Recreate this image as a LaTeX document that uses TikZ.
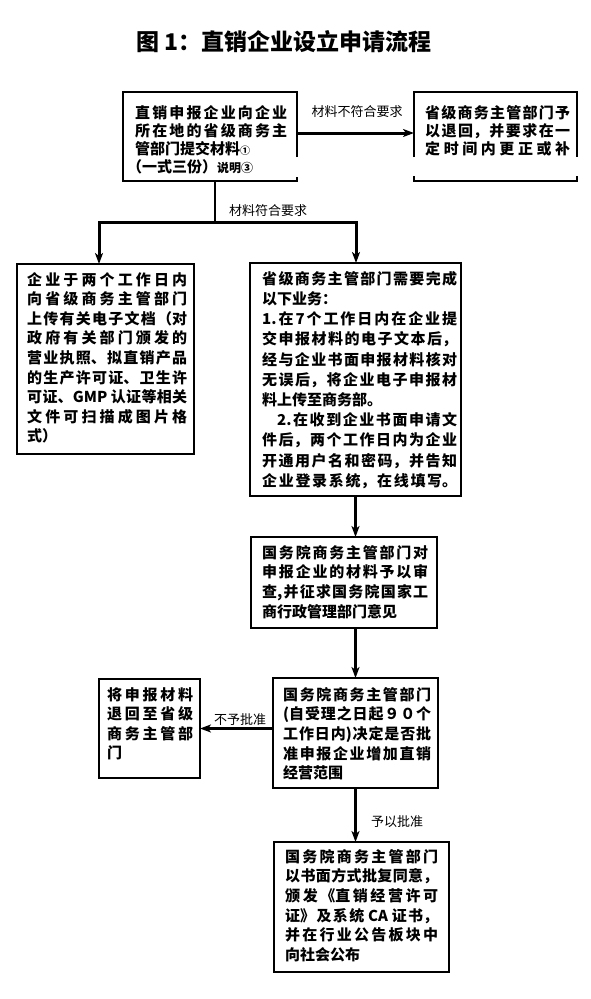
\documentclass[tikz,border=0pt]{standalone}
\usepackage{fontspec}
\newfontfamily\cjk{Noto Sans CJK SC}
\usetikzlibrary{arrows.meta,calc}
\XeTeXlinebreaklocale "zh"
\XeTeXlinebreakskip=0pt plus 6pt
\tikzset{
  box/.style={draw, line width=1.2pt, inner sep=0pt, outer sep=0pt},
  hollow/.style={inner sep=0pt, outer sep=0pt},
  border/.style={line width=1.2pt},
  txt/.style={anchor=north west, inner sep=0pt, align=justify,
    font=\cjk\bfseries\fontsize{15}{19.6}\selectfont},
  txtb/.style={txt, font=\cjk\bfseries\fontsize{15}{18}\selectfont},
  txtc/.style={txt, font=\cjk\bfseries\fontsize{15}{20.2}\selectfont},
  conn/.style={line width=3pt, -{Stealth[length=11pt,width=8pt,inset=3pt]}},
  lbl/.style={font=\cjk\fontsize{13}{13}\selectfont, inner sep=0pt},
}
\begin{document}
\begin{tikzpicture}[x=1pt,y=-1pt]
\fill[white] (0,0) rectangle (590,999);
\useasboundingbox (0,0) rectangle (590,999);

\node[inner sep=0pt, font=\cjk\bfseries\fontsize{23}{23}\selectfont] (title) at (284,42) {图 1：直销企业设立申请流程};

% boxes
\node[hollow, minimum width=174pt, minimum height=89pt] (b1) at (210,136.5) {};
\node[hollow, minimum width=163pt, minimum height=89pt] (b2) at (495.5,136.5) {};
\node[box, minimum width=177pt, minimum height=190pt] (l1) at (105.5,359) {};
\node[box, minimum width=211pt, minimum height=233pt] (r1) at (355.5,379.5) {};
\node[box, minimum width=186pt, minimum height=91pt] (r2) at (344,582.5) {};
\node[box, minimum width=165pt, minimum height=110pt] (r3) at (355.5,733) {};
\node[box, minimum width=101pt, minimum height=99pt] (l2) at (149.5,728.5) {};
\node[box, minimum width=175pt, minimum height=130pt] (r4) at (361.5,907) {};

% broken borders of the two top boxes
\draw[border] ([yshift=24pt]b1.south east) -- (b1.north east) -- (b1.north west) -- (b1.south west) -- (b1.south east) -- ([yshift=4pt]b1.south east);
\draw[border] ([yshift=24pt]b2.south west) -- (b2.north west) -- (b2.north east) -- ([yshift=24pt]b2.south east);
\draw[border] ([yshift=5pt]b2.south west) -- (b2.south west) -- (b2.south east) -- ([yshift=5pt]b2.south east);

% texts
\node[txtb, text width=152pt] (t1) at (135,105) {直销申报企业向企业\linebreak 所在地的省级商务主\linebreak 管部门提交材料{\fontsize{10}{10}\selectfont ①}\\\hspace*{-8pt}（一式三份）{\fontsize{12}{12}\selectfont 说明③}};
\node[txtb, text width=145pt] (t2) at (425,105) {省级商务主管部门予\linebreak 以退回，并要求在一\linebreak 定时间内更正或补\linebreak\mbox{}};
\node[txt, text width=160pt] (t3) at (27,272) {企业于两个工作日内\linebreak 向省级商务主管部门\linebreak 上传有关电子文档（对\linebreak 政府有关部门颁发的\linebreak 营业执照、拟直销产品\linebreak 的生产许可证、卫生许\linebreak 可证、GMP 认证等相关\linebreak 文件可扫描成图片格\linebreak 式）};
\node[txtc, text width=195pt] (t4) at (262,271) {省级商务主管部门需要完成\linebreak 以下业务：\\1.在7个工作日内在企业提\linebreak 交申报材料的电子文本后，\linebreak 经与企业书面申报材料核对\linebreak 无误后，将企业电子申报材\linebreak 料上传至商务部。\\\hspace*{15pt}2.在收到企业书面申请文\linebreak 件后，两个工作日内为企业\linebreak 开通用户名和密码，并告知\linebreak 企业登录系统，在线填写。\linebreak\mbox{}};
\node[txt, text width=166pt] (t5) at (262,545) {国务院商务主管部门对\linebreak 申报企业的材料予以审\linebreak 查,并征求国务院国家工\linebreak 商行政管理部门意见};
\node[txt, text width=148pt] (t6) at (283,687) {国务院商务主管部门\linebreak (自受理之日起９０个\linebreak 工作日内)决定是否批\linebreak 准申报企业增加直销\linebreak 经营范围};
\node[txt, text width=86pt] (t7) at (107,687) {将申报材料\linebreak 退回至省级\linebreak 商务主管部\linebreak 门};
\node[txt, text width=153pt] (t8) at (285,849) {国务院商务主管部门\linebreak 以书面方式批复同意，\linebreak 颁发《直销经营许可\linebreak 证》及系统 CA 证书，\linebreak 并在行业公告板块中\linebreak 向社会公布};

% labels
\node[lbl] (lab1) at (357,112) {材料不符合要求};
\node[lbl] (lab2) at (268,211) {材料符合要求};
\node[lbl] (lab3) at (240,720) {不予批准};
\node[lbl] (lab4) at (397,822) {予以批准};

% connectors
\coordinate (j) at (215,222);
\coordinate (jl) at (99,222);
\coordinate (jr) at (356,222);
\draw[conn] ([yshift=3.5pt]b1.east) -- ([yshift=3.5pt]b2.west);
\draw[line width=2pt] ([xshift=5pt]b1.south) -- (j);
\draw[conn] (jr) -- (jl) -- (jl |- l1.north);
\draw[conn] (jl) -- (jr) -- (jr |- r1.north);
\draw[conn] (r1.south) -- (r1.south |- r2.north);
\draw[conn] (r3.north |- r2.south) -- (r3.north);
\draw[conn] (r3.west |- l2.east) -- (l2.east);
\draw[conn] (r3.south) -- (r3.south |- r4.north);
\end{tikzpicture}
\end{document}
